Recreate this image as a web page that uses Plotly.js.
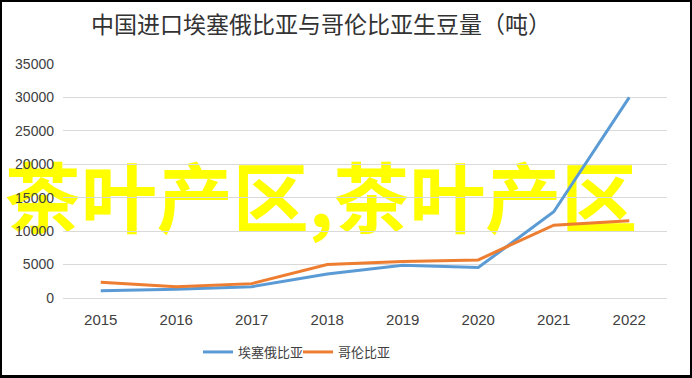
<!DOCTYPE html>
<html>
<head>
<meta charset="utf-8">
<script src="https://cdn.plot.ly/plotly-3.0.1.min.js"></script>
<style>
html,body{margin:0;padding:0;background:#fff;}
#wrap{position:relative;width:692px;height:378px;overflow:hidden;background:#fff;}
#wm{position:absolute;left:0;top:152px;width:642px;text-align:center;font-family:"Noto Sans CJK SC",sans-serif;font-weight:bold;font-size:76px;line-height:84px;color:#ffff00;white-space:nowrap;z-index:0;}
#chart{position:absolute;left:0;top:0;width:692px;height:378px;z-index:1;}
#frame{position:absolute;left:0;top:0;width:692px;height:378px;box-sizing:border-box;border:2px solid #000;border-bottom-width:3px;z-index:2;pointer-events:none;}
</style>
</head>
<body>
<div id="wrap">
  <div id="wm">茶叶产区,茶叶产区</div>
  <div id="chart"></div>
  <div id="frame"></div>
</div>
<script>
const years = ['2015','2016','2017','2018','2019','2020','2021','2022'];
const ethiopia = [1100, 1300, 1700, 3600, 4900, 4550, 12900, 30000];
const colombia = [2350, 1700, 2150, 5000, 5450, 5700, 10900, 11550];
const seriesNames = ['埃塞俄比亚', '哥伦比亚'];
const titleText = '中国进口埃塞俄比亚与哥伦比亚生豆量（吨）';
const yTicks = [0, 5000, 10000, 15000, 20000, 25000, 30000, 35000];

const traces = [
  {x: years, y: ethiopia, name: seriesNames[0], type: 'scatter', mode: 'lines',
   line: {color: '#5b9bd5', width: 3}},
  {x: years, y: colombia, name: seriesNames[1], type: 'scatter', mode: 'lines',
   line: {color: '#ed7d31', width: 3}}
];

const layout = {
  width: 692, height: 378,
  paper_bgcolor: 'rgba(0,0,0,0)', plot_bgcolor: 'rgba(0,0,0,0)',
  margin: {l: 63, r: 25, t: 64, b: 80},
  title: {text: titleText, x: 91/692, xanchor: 'left', xref: 'container',
          y: 1 - 25/378, yanchor: 'middle', yref: 'container', automargin: false,
          font: {family: '"Noto Sans CJK SC", sans-serif', size: 23, color: '#333333'}},
  xaxis: {type: 'category', range: [-0.5, years.length - 0.5], automargin: false,
          showgrid: false, showline: true, linecolor: '#d9d9d9', linewidth: 1,
          ticks: '', ticklabelstandoff: 8,
          tickfont: {family: '"Liberation Sans Narrow", "Liberation Sans", sans-serif', size: 15, color: '#404040'}},
  yaxis: {range: [0, 35000], tickvals: yTicks, ticktext: yTicks.map(String), automargin: false,
          showgrid: true, gridcolor: '#d9d9d9', gridwidth: 1, zeroline: false, showline: false,
          ticks: '', ticklabelstandoff: 8,
          tickfont: {family: '"Liberation Sans", sans-serif', size: 14, color: '#404040'}},
  showlegend: true,
  legend: {orientation: 'h', x: 198/692, xref: 'container', xanchor: 'left',
           y: 1 - 352/378, yref: 'container', yanchor: 'middle',
           font: {family: '"Noto Sans CJK SC", sans-serif', size: 13, color: '#404040'},
           itemwidth: 30, tracegroupgap: 0, bgcolor: 'rgba(0,0,0,0)',
           entrywidth: 55, entrywidthmode: 'pixels'}
};

Plotly.newPlot('chart', traces, layout, {displayModeBar: false, staticPlot: true});
</script>
</body>
</html>
